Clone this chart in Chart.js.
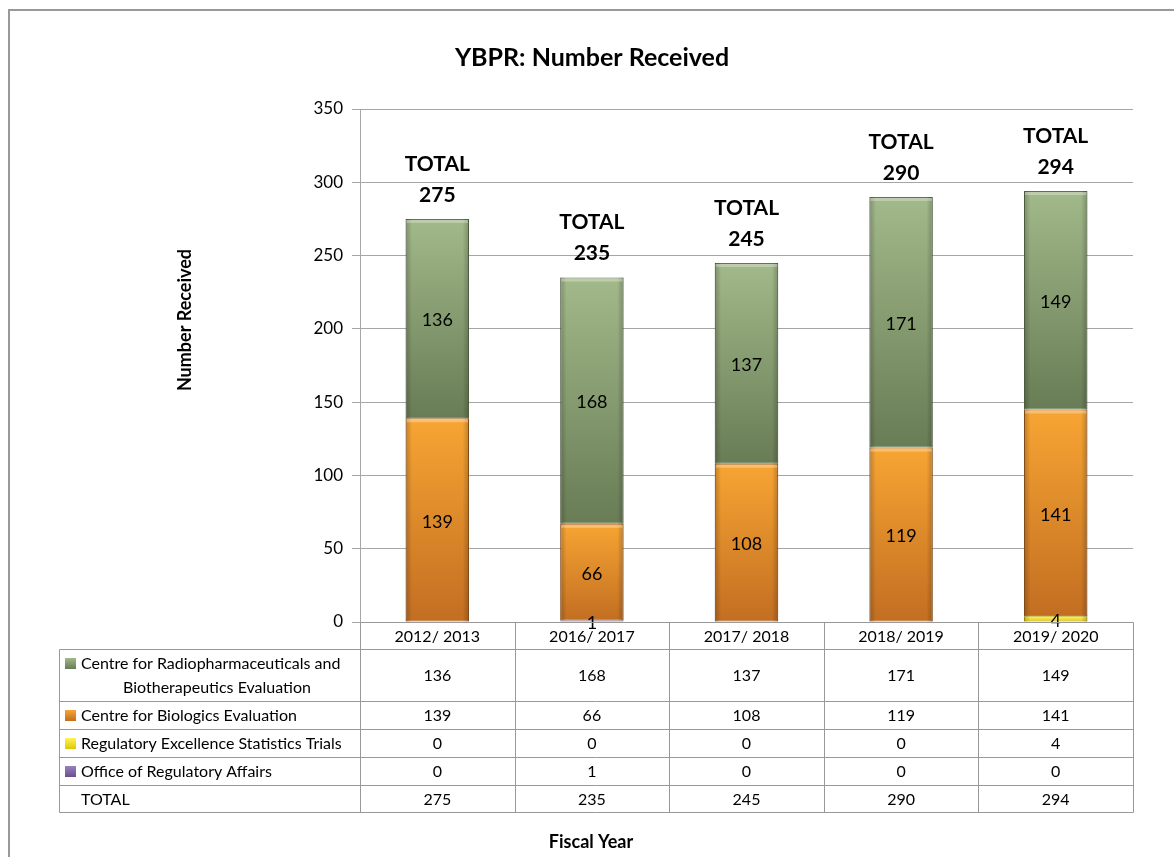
<!DOCTYPE html>
<html lang="en">
<head>
    <meta charset="UTF-8">
    <title>YBPR: Number Received</title>
    <script src="https://cdn.jsdelivr.net/npm/chart.js"></script>
    <style>
        body { margin: 0; background: #fff; }
        .chart-container { position: relative; width: 1174px; height: 857px; }
    </style>
</head>
<body>
    <div class="chart-container">
        <canvas id="receivedChart" width="1174" height="857"></canvas>
    </div>

    <script>
        // fiscal years and counts per directorate
        const categories = ['2012/ 2013', '2016/ 2017', '2017/ 2018', '2018/ 2019', '2019/ 2020'];
        const radiopharm = [136, 168, 137, 171, 149];
        const biologics = [139, 66, 108, 119, 141];
        const statsTrials = [0, 0, 0, 0, 4];
        const regAffairs = [0, 1, 0, 0, 0];
        const totals = [275, 235, 245, 290, 294];
        const yTicks = [0, 50, 100, 150, 200, 250, 300, 350];

        const FONT = 'Lato, "Open Sans", sans-serif';

        // vertical gradient for each stacked segment
        function segGradient(top, bottom) {
            return (c) => {
                const chart = c.chart;
                const area = chart.chartArea;
                if (!area || c.type !== 'data') return bottom;
                const i = c.dataIndex;
                let base = 0;
                for (let d = 0; d < c.datasetIndex; d++) base += chart.data.datasets[d].data[i];
                const v = chart.data.datasets[c.datasetIndex].data[i];
                const y = chart.scales.y;
                const y0 = y.getPixelForValue(base + v);
                const y1 = y.getPixelForValue(base);
                if (!(y1 > y0)) return bottom;
                const g = chart.ctx.createLinearGradient(0, y0, 0, y1);
                g.addColorStop(0, top);
                g.addColorStop(1, bottom);
                return g;
            };
        }

        const series = [
            { label: 'Office of Regulatory Affairs', data: regAffairs, top: '#9b80bf', bottom: '#6a4f8e', border: '#5a4278' },
            { label: 'Regulatory Excellence Statistics Trials', data: statsTrials, top: '#fff35a', bottom: '#e0c800', border: '#b8a100' },
            { label: 'Centre for Biologics Evaluation', data: biologics, top: '#f7a533', bottom: '#c26e22', border: '#a25c1c' },
            { label: 'Centre for Radiopharmaceuticals and Biotherapeutics Evaluation', data: radiopharm, top: '#a2b98a', bottom: '#687c55', border: '#5f704f' }
        ];
        // table rows are listed top series first
        const tableRows = [
            { lines: ['Centre for Radiopharmaceuticals and', 'Biotherapeutics Evaluation'], data: radiopharm, s: series[3], h: 52 },
            { lines: ['Centre for Biologics Evaluation'], data: biologics, s: series[2], h: 28 },
            { lines: ['Regulatory Excellence Statistics Trials'], data: statsTrials, s: series[1], h: 28 },
            { lines: ['Office of Regulatory Affairs'], data: regAffairs, s: series[0], h: 28 },
            { lines: ['TOTAL'], data: totals, s: null, h: 27 }
        ];

        const frame = {
            id: 'frame',
            beforeDraw(chart) {
                const ctx = chart.ctx;
                ctx.save();
                ctx.strokeStyle = '#999';
                ctx.lineWidth = 2;
                ctx.beginPath();
                ctx.moveTo(9, 857);
                ctx.lineTo(9, 10);
                ctx.lineTo(1174, 10);
                ctx.stroke();
                ctx.restore();
            },
            afterDraw(chart) {
                const ctx = chart.ctx;
                ctx.save();
                ctx.fillStyle = '#000';
                ctx.textAlign = 'center';
                ctx.textBaseline = 'middle';
                ctx.font = 'bold 25px ' + FONT;
                ctx.fillText('YBPR: Number Received', 592, 58);
                ctx.font = 'bold 18px ' + FONT;
                ctx.fillText('Fiscal Year', 591, 842);
                ctx.translate(185, 320);
                ctx.rotate(-Math.PI / 2);
                ctx.fillText('Number Received', 0, 0);
                ctx.restore();
            }
        };

        const barLabels = {
            id: 'barLabels',
            afterDatasetsDraw(chart) {
                const ctx = chart.ctx;
                ctx.save();
                // light bevel on every bar segment
                chart.data.datasets.forEach((ds, di) => {
                    chart.getDatasetMeta(di).data.forEach((bar) => {
                        const h = bar.base - bar.y;
                        if (h < 2) return;
                        const l = bar.x - bar.width / 2, r = bar.x + bar.width / 2;
                        const g = ctx.createLinearGradient(l, 0, r, 0);
                        g.addColorStop(0, 'rgba(0,0,0,0.22)');
                        g.addColorStop(0.1, 'rgba(0,0,0,0)');
                        g.addColorStop(0.9, 'rgba(0,0,0,0)');
                        g.addColorStop(1, 'rgba(0,0,0,0.22)');
                        ctx.fillStyle = g;
                        ctx.fillRect(l, bar.y, bar.width, h);
                        if (h > 6) {
                            ctx.fillStyle = 'rgba(255,255,255,0.3)';
                            ctx.fillRect(l + 1, bar.y + 1, bar.width - 2, 3);
                        }
                    });
                });
                // segment values
                ctx.fillStyle = '#000';
                ctx.textAlign = 'center';
                ctx.textBaseline = 'middle';
                ctx.font = '18px ' + FONT;
                chart.data.datasets.forEach((ds, di) => {
                    chart.getDatasetMeta(di).data.forEach((bar, i) => {
                        const v = ds.data[i];
                        if (!v) return;
                        ctx.fillText(String(v), bar.x, (bar.y + bar.base) / 2 + 2);
                    });
                });
                // totals above each stack
                const topMeta = chart.getDatasetMeta(chart.data.datasets.length - 1);
                ctx.font = 'bold 21px ' + FONT;
                topMeta.data.forEach((bar, i) => {
                    const yTop = chart.scales.y.getPixelForValue(totals[i]);
                    ctx.fillText('TOTAL', bar.x, yTop - 55);
                    ctx.fillText(String(totals[i]), bar.x, yTop - 24);
                });
                ctx.restore();
            }
        };

        const dataTable = {
            id: 'dataTable',
            afterDraw(chart) {
                const ctx = chart.ctx;
                const x = chart.scales.x;
                const left = chart.chartArea.left, right = chart.chartArea.right;
                const colW = (right - left) / categories.length;
                const tableLeft = 59;
                const headTop = chart.chartArea.bottom, headH = 27;
                const bodyTop = headTop + headH;
                const bodyBottom = bodyTop + tableRows.reduce((a, r) => a + r.h, 0);
                const px = (v) => Math.round(v) + 0.5;

                ctx.save();
                ctx.strokeStyle = '#999';
                ctx.lineWidth = 1;
                ctx.beginPath();
                // header row lines
                ctx.moveTo(px(left), px(headTop));
                ctx.lineTo(px(right), px(headTop));
                // horizontal row lines
                let y = bodyTop;
                ctx.moveTo(px(tableLeft), px(y));
                ctx.lineTo(px(right), px(y));
                tableRows.forEach((r) => {
                    y += r.h;
                    ctx.moveTo(px(tableLeft), px(y));
                    ctx.lineTo(px(right), px(y));
                });
                // verticals
                ctx.moveTo(px(tableLeft), px(bodyTop));
                ctx.lineTo(px(tableLeft), px(bodyBottom));
                for (let c = 0; c <= categories.length; c++) {
                    const cx = left + c * colW;
                    ctx.moveTo(px(cx), px(headTop));
                    ctx.lineTo(px(cx), px(bodyBottom));
                }
                ctx.stroke();

                ctx.fillStyle = '#000';
                ctx.textBaseline = 'middle';
                ctx.textAlign = 'center';
                ctx.font = '16px ' + FONT;
                categories.forEach((c, i) => {
                    ctx.fillText(c, x.getPixelForValue(i), headTop + headH / 2 + 1);
                });

                y = bodyTop;
                tableRows.forEach((r) => {
                    const mid = y + r.h / 2 + 1;
                    // legend key
                    if (r.s) {
                        const ky = r.lines.length > 1 ? mid - 12 - 6 : mid - 6;
                        const g = ctx.createLinearGradient(0, ky, 0, ky + 11);
                        g.addColorStop(0, r.s.top);
                        g.addColorStop(1, r.s.bottom);
                        ctx.fillStyle = g;
                        ctx.fillRect(65, ky, 11, 11);
                        ctx.fillStyle = '#000';
                    }
                    if (r.lines.length > 1) {
                        ctx.textAlign = 'left';
                        ctx.fillText(r.lines[0], 81, mid - 12);
                        ctx.textAlign = 'center';
                        ctx.fillText(r.lines[1], 217, mid + 12);
                    } else {
                        ctx.textAlign = 'left';
                        ctx.fillText(r.lines[0], 81, mid);
                    }
                    ctx.textAlign = 'center';
                    r.data.forEach((v, i) => ctx.fillText(String(v), x.getPixelForValue(i), mid));
                    y += r.h;
                });
                ctx.restore();
            }
        };

        new Chart(document.getElementById('receivedChart').getContext('2d'), {
            type: 'bar',
            data: {
                labels: categories,
                datasets: series.map((s) => ({
                    label: s.label,
                    data: s.data,
                    backgroundColor: segGradient(s.top, s.bottom),
                    borderColor: s.border,
                    borderWidth: 1,
                    borderSkipped: false,
                    barPercentage: 0.41,
                    categoryPercentage: 1
                }))
            },
            options: {
                responsive: false,
                animation: false,
                layout: { padding: { top: 109, right: 41, left: 0, bottom: 0 } },
                plugins: {
                    legend: { display: false },
                    tooltip: { enabled: false },
                    title: { display: false }
                },
                scales: {
                    x: {
                        stacked: true,
                        grid: { display: false },
                        border: { display: false },
                        ticks: { display: false },
                        afterFit: (s) => { s.height = 235; }
                    },
                    y: {
                        stacked: true,
                        min: 0,
                        max: 350,
                        afterBuildTicks: (s) => { s.ticks = yTicks.map((v) => ({ value: v })); },
                        grid: { color: '#a6a6a6', tickLength: 8, drawTicks: true },
                        border: { display: true, color: '#a6a6a6' },
                        ticks: { color: '#000', padding: 9, font: { family: FONT, size: 17 } },
                        afterFit: (s) => { s.width = 360; }
                    }
                }
            },
            plugins: [frame, barLabels, dataTable]
        });
    </script>
</body>
</html>
